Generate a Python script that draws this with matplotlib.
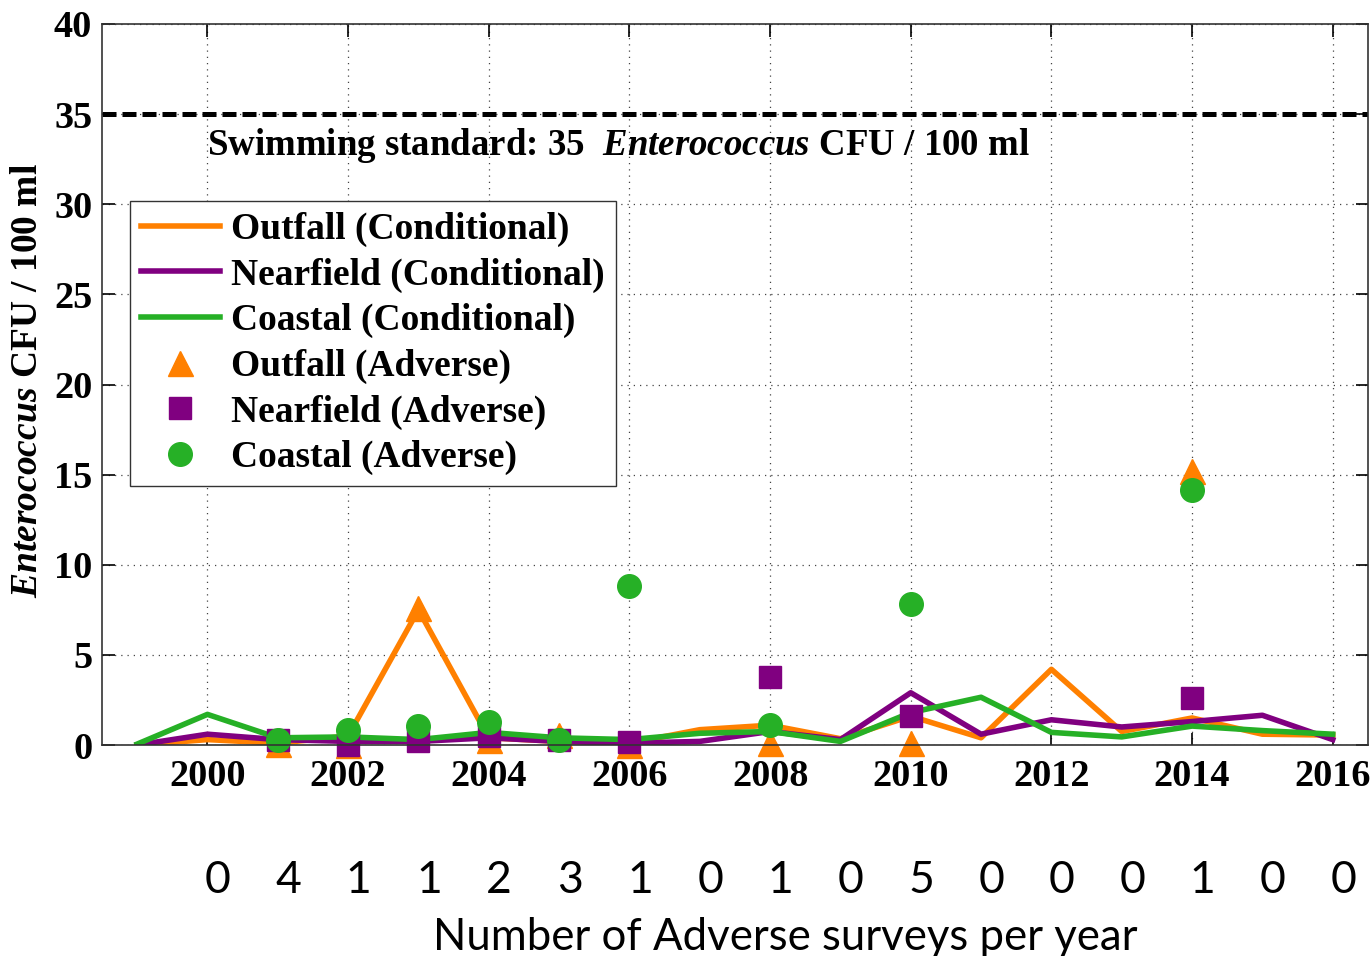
import numpy as np
import matplotlib
matplotlib.use("Agg")
import matplotlib.pyplot as plt
from matplotlib.transforms import blended_transform_factory

# fonts: Times-like bold serif for the axes, Calibri-like sans for the counts row
plt.rcParams['font.family'] = 'Liberation Serif'
plt.rcParams['font.weight'] = 'bold'
plt.rcParams['mathtext.fontset'] = 'custom'
plt.rcParams['mathtext.it'] = 'Liberation Serif:italic'
plt.rcParams['mathtext.rm'] = 'Liberation Serif:bold'
plt.rcParams['mathtext.bf'] = 'Liberation Serif:bold'

# conditional surveys (lines), 1999-2016
years_cond = [1999, 2000, 2001, 2002, 2003, 2004, 2005, 2006, 2007, 2008,
              2009, 2010, 2011, 2012, 2013, 2014, 2015, 2016]
outfall_cond = [0.0, 0.3, 0.1, 0.5, 7.5, 0.4, 0.2, 0.1, 0.85, 1.1,
                0.35, 1.6, 0.4, 4.2, 0.75, 1.5, 0.6, 0.55]
nearfield_cond = [0.0, 0.6, 0.3, 0.2, 0.2, 0.4, 0.2, 0.1, 0.2, 0.75,
                  0.3, 2.9, 0.6, 1.4, 1.0, 1.3, 1.65, 0.3]
coastal_cond = [0.05, 1.7, 0.4, 0.45, 0.3, 0.7, 0.4, 0.3, 0.65, 0.75,
                0.2, 1.8, 2.65, 0.7, 0.45, 1.05, 0.8, 0.6]

# adverse surveys (markers)
years_adv = [2001, 2002, 2003, 2004, 2005, 2006, 2008, 2010, 2014]
outfall_adv = [0.05, 0.0, 7.6, 0.3, 0.55, 0.0, 0.1, 0.1, 15.2]
nearfield_adv = [0.3, 0.0, 0.2, 0.5, 0.3, 0.15, 3.75, 1.6, 2.6]
coastal_adv = [0.3, 0.85, 1.05, 1.25, 0.3, 8.8, 1.1, 7.8, 14.15]

# number of adverse surveys per year
count_years = list(range(2000, 2017))
adverse_counts = [0, 4, 1, 1, 2, 3, 1, 0, 1, 0, 5, 0, 0, 0, 1, 0, 0]

SWIM_STD = 35

ORANGE = '#FF8000'
PURPLE = '#800080'
GREEN = '#26B026'

fig = plt.figure(figsize=(13.72, 9.56), dpi=100)
ax = fig.add_axes([0.0743, 0.2207, 0.9227, 0.7542])

ax.plot(years_cond, outfall_cond, color=ORANGE, lw=4, label='Outfall (Conditional)')
ax.plot(years_cond, nearfield_cond, color=PURPLE, lw=4, label='Nearfield (Conditional)')
ax.plot(years_cond, coastal_cond, color=GREEN, lw=4, label='Coastal (Conditional)')
ax.plot(years_adv, outfall_adv, ls='none', marker='^', ms=18, color=ORANGE,
        clip_on=False, label='Outfall (Adverse)')
ax.plot(years_adv, nearfield_adv, ls='none', marker='s', ms=16, color=PURPLE,
        clip_on=False, label='Nearfield (Adverse)')
ax.plot(years_adv, coastal_adv, ls='none', marker='o', ms=17, color=GREEN,
        clip_on=False, label='Coastal (Adverse)')

# swimming standard
ax.axhline(SWIM_STD, color='k', lw=3.6, ls=(0, (2.8, 1.2)))
ax.text(2000, 33.25, 'Swimming standard: 35  $\\mathit{Enterococcus}$ CFU / 100 ml',
        fontsize=26.6, fontweight='bold', ha='left', va='center')

ax.set_xlim(1998.5, 2016.5)
ax.set_ylim(0, 40)
ax.set_xticks(np.arange(2000, 2017, 2))
ax.set_yticks(np.arange(0, 41, 5))
ax.tick_params(direction='in', length=9, width=1.2, top=True, right=True,
               labelsize=27.5)
ax.tick_params(axis='x', pad=10)
ax.tick_params(axis='y', pad=7)
for lab in ax.get_xticklabels() + ax.get_yticklabels():
    lab.set_fontweight('bold')
ax.grid(True, color='#444444', lw=0.9, ls=(0, (1, 4)))
for sp in ax.spines.values():
    sp.set_linewidth(1.2)
    sp.set_color('#333333')

ax.set_ylabel('$\\mathit{Enterococcus}$ CFU / 100 ml', fontsize=27, fontweight='bold')
ax.yaxis.set_label_coords(-0.045, 0.505)

leg = ax.legend(loc='upper left', bbox_to_anchor=(0.022, 0.755), borderaxespad=0,
                prop={'weight': 'bold', 'size': 27}, frameon=True,
                fancybox=False, edgecolor='#333333', framealpha=1,
                handlelength=2.1, handletextpad=0.3, labelspacing=0.28,
                borderpad=0.3, numpoints=1)
leg.get_frame().set_linewidth(1.0)

# counts row under the axis
trans = blended_transform_factory(ax.transData, fig.transFigure)
for yr, n in zip(count_years, adverse_counts):
    fig.text(yr + 0.15, 0.079, str(n), transform=trans, ha='center', va='center',
             fontsize=32, fontweight='normal', family='Lato')
fig.text(0.572, 0.019, 'Number of Adverse surveys per year', ha='center', va='center',
         fontsize=31.5, fontweight='normal', family='Lato')

fig.savefig('out.png', dpi=100)
